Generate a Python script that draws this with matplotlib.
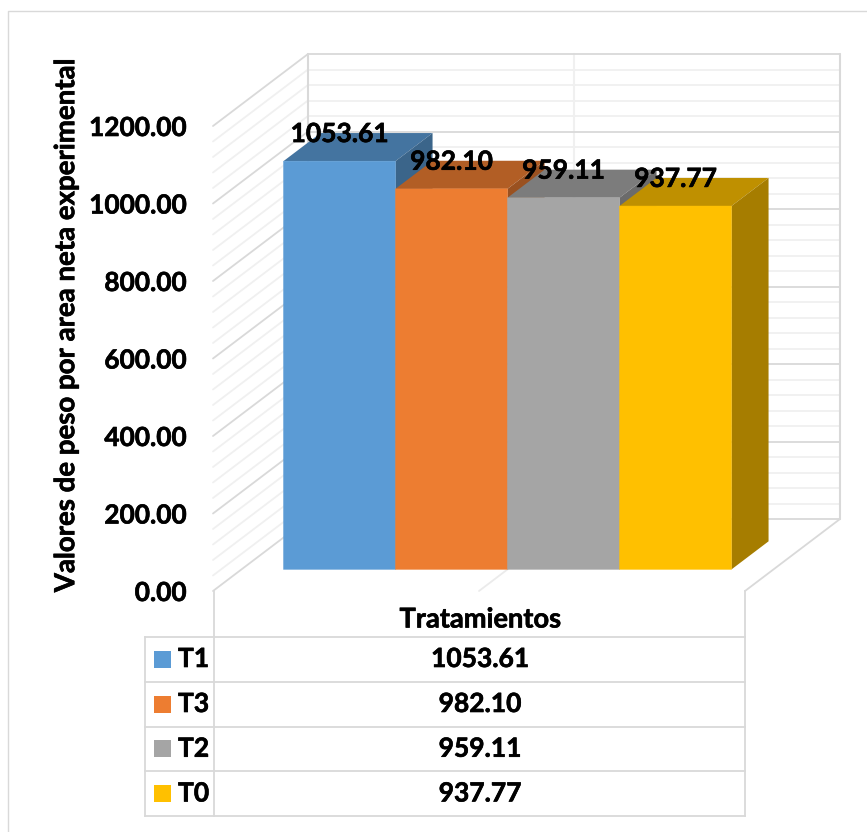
import matplotlib
matplotlib.use("Agg")
import matplotlib.pyplot as plt
import matplotlib.patheffects as pe
from matplotlib.patches import Polygon, Rectangle
from matplotlib.lines import Line2D
from matplotlib.colors import to_rgb

# Data
treatments = ["T1", "T3", "T2", "T0"]
weights = [1053.61, 982.10, 959.11, 937.77]
colors = ["#5B9BD5", "#ED7D31", "#A5A5A5", "#FFC000"]
y_ticks = [0, 200, 400, 600, 800, 1000, 1200]
minor_step = 40
y_title = "Valores de peso por area neta experimental"
table_title = "Tratamientos"

W, H = 867, 832
plt.rcParams["font.family"] = ["Lato", "DejaVu Sans"]
HEAVY = "bold"
THICK = [pe.withStroke(linewidth=0.45, foreground="black")]
fig = plt.figure(figsize=(W / 100, H / 100), dpi=100, facecolor="white")

# Helpers for figure pixels measured from the top left
def fx(px):
    return px / W
def fy(py):
    return 1 - py / H

def fig_line(xs, ys, color="#D9D9D9", lw=1.3):
    fig.add_artist(Line2D([fx(x) for x in xs], [fy(y) for y in ys],
                          color=color, lw=lw, solid_capstyle="projecting"))

# Outer chart frame
fig_line([8, 8, 867], [832, 10.5, 10.5], lw=1.0)

# Front plane of the 3D box: x runs over bars, y over the value scale
left, right, bottom, top = 213, 745, 591, 126
ax = fig.add_axes([fx(left), fy(bottom), (right - left) / W, (bottom - top) / H])
ax.set_xlim(-0.875, 3.875)
ax.set_ylim(0, 1200)
ax.patch.set_visible(False)
for s in ax.spines.values():
    s.set_visible(False)
ax.set_xticks([])
ax.set_yticks(y_ticks)
ax.set_yticklabels([f"{v:.2f}" for v in y_ticks], fontsize=18.9, fontweight=HEAVY, path_effects=THICK)
ax.tick_params(axis="y", length=0, pad=19.2)
ax.set_ylabel(y_title, fontsize=19.9, fontweight=HEAVY, path_effects=THICK)
ax.yaxis.set_label_coords(-0.2515, 0.570)

# Depth projection: z = 0 front plane, z = 1 back wall
px_per_x = (right - left) / 4.75
px_per_v = (bottom - top) / 1200
depth_x = 95 / px_per_x
depth_v = 72 / px_per_v
def proj(x, v, z):
    return x + depth_x * z, v + depth_v * z

x0, x1 = -0.875, 3.875
def wall_line(p, q, color, lw, z=1):
    ax.plot([p[0], q[0]], [p[1], q[1]], color=color, lw=lw, clip_on=False,
            zorder=z, solid_capstyle="round")

for v in range(0, 1200 + minor_step, minor_step):
    major = v % 200 == 0
    c, lw, z = ("#D9D9D9", 1.3, 1.5) if major else ("#F0F0F0", 1.3, 1)
    wall_line(proj(x0, v, 1), proj(x1, v, 1), c, lw, z)
    wall_line(proj(x0, v, 0), proj(x0, v, 1), c, lw, z)
wall_line(proj(x0, 0, 1), proj(x0, 1200, 1), "#D9D9D9", 1.5, 1.5)
wall_line(proj(x1, 0, 1), proj(x1, 1200, 1), "#D9D9D9", 1.5, 1.5)
xm = (x0 + x1) / 2
wall_line(proj(xm, 0, 1), proj(xm, 1200, 1), "#F0F0F0", 1.5)
wall_line(proj(xm, 0, 0), proj(xm, 0, 1), "#EBEBEB", 1.3)
wall_line(proj(x1, 0, 0), proj(x1, 0, 1), "#D9D9D9", 1.3, 1.5)

# Bars, drawn left to right so each front covers the previous side face
z_front, z_back = 0.30, 0.69
def shade(color, k):
    return tuple(c * k for c in to_rgb(color))

for i, (val, col) in enumerate(zip(weights, colors)):
    zo = 3 + i
    a, b = i - 0.5, i + 0.5
    ax.add_patch(Polygon([proj(a, val, z_front), proj(b, val, z_front),
                          proj(b, val, z_back), proj(a, val, z_back)],
                         closed=True, fc=shade(col, 0.75), lw=0, zorder=zo, clip_on=False))
    ax.add_patch(Polygon([proj(b, 0, z_front), proj(b, val, z_front),
                          proj(b, val, z_back), proj(b, 0, z_back)],
                         closed=True, fc=shade(col, 0.65), lw=0, zorder=zo, clip_on=False))
    xa, v0 = proj(i, 0, z_front)
    front = ax.bar(xa, val, width=1, bottom=v0, color=col, edgecolor=col, linewidth=0.3,
                   zorder=zo + 0.5, clip_on=False)
    for rect in front:
        rect.set_snap(False)
for i, val in enumerate(weights):
    xa, va = proj(i, val, z_front)
    ax.annotate(f"{val:.2f}", (xa, va), xytext=(0, 19.5), textcoords="offset points",
                ha="center", va="center", fontsize=19, fontweight=HEAVY, color="black",
                zorder=20, annotation_clip=False, path_effects=THICK)

# Data table under the plot
rows_y = [636.5, 681.5, 726.5, 771, 816]
tl, tm, tr = 145, 214, 745
fig_line([tm, tm], [591, 816])
fig_line([tr, tr], [591, 816])
fig_line([tl, tl], [636.5, 816])
for y in rows_y:
    fig_line([tl, tr], [y, y])
fig.text(fx(480), fy(619.5), table_title, ha="center", va="center", fontsize=19.6,
         fontweight=HEAVY, path_effects=THICK)
for i, (name, val, col) in enumerate(zip(treatments, weights, colors)):
    cy = (rows_y[i] + rows_y[i + 1]) / 2
    fig.add_artist(Rectangle((fx(154), fy(cy + 8.5)), 17 / W, 17 / H, transform=fig.transFigure,
                             fc=col, lw=0))
    fig.text(fx(178), fy(cy), name, ha="left", va="center", fontsize=19,
             fontweight=HEAVY, path_effects=THICK)
    fig.text(fx(480), fy(cy), f"{val:.2f}", ha="center", va="center", fontsize=19,
             fontweight=HEAVY, path_effects=THICK)

fig.savefig("out.png", dpi=100)
